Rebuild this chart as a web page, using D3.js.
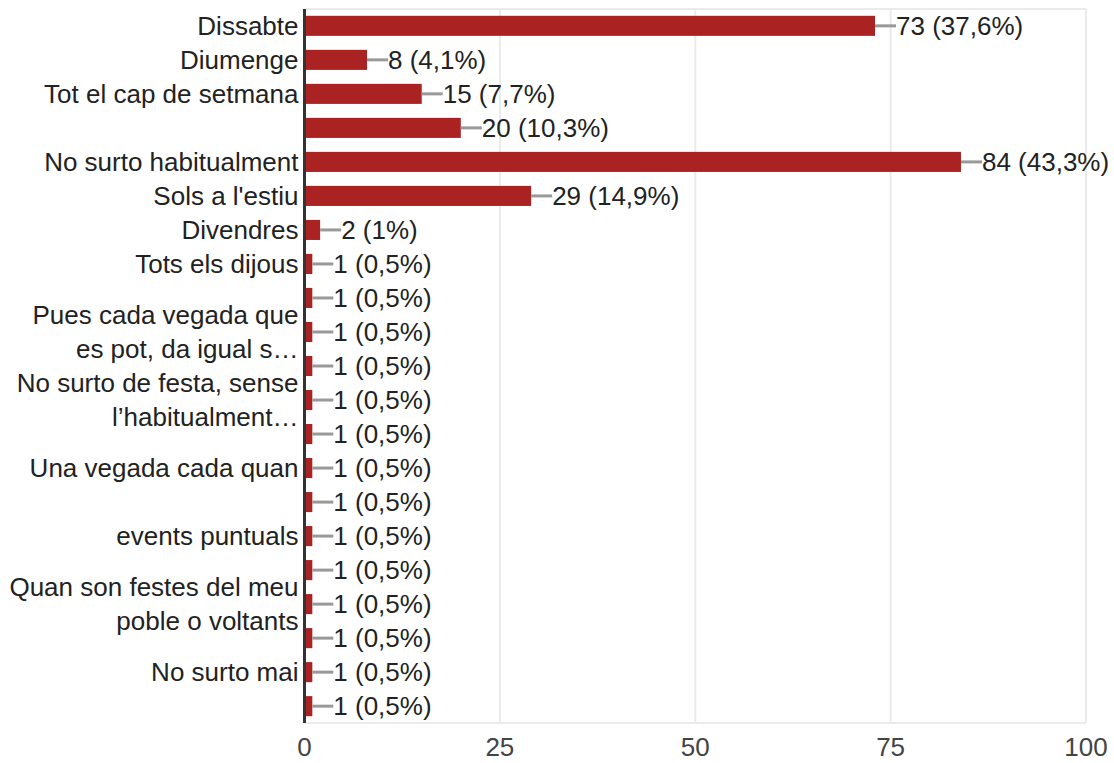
<!DOCTYPE html>
<html>
<head>
<meta charset="utf-8">
<script src="https://cdn.jsdelivr.net/npm/d3@7"></script>
<style>
  body { margin: 0; background: #fff; }
  svg { display: block; font-family: "Liberation Sans", Arial, sans-serif; }
</style>
</head>
<body>
<svg id="chart" width="1114" height="763"></svg>
<script>
// categories (label lines; empty = label hidden), counts and percent labels
const categories = [
  ["Dissabte"],
  ["Diumenge"],
  ["Tot el cap de setmana"],
  [],
  ["No surto habitualment"],
  ["Sols a l'estiu"],
  ["Divendres"],
  ["Tots els dijous"],
  [],
  ["Pues cada vegada que", "es pot, da igual s…"],
  [],
  ["No surto de festa, sense", "l’habitualment…"],
  [],
  ["Una vegada cada quan"],
  [],
  ["events puntuals"],
  [],
  ["Quan son festes del meu", "poble o voltants"],
  [],
  ["No surto mai"],
  []
];
const values = [73, 8, 15, 20, 84, 29, 2, 1, 1, 1, 1, 1, 1, 1, 1, 1, 1, 1, 1, 1, 1];
const percents = ["37,6%", "4,1%", "7,7%", "10,3%", "43,3%", "14,9%", "1%",
  "0,5%", "0,5%", "0,5%", "0,5%", "0,5%", "0,5%", "0,5%", "0,5%", "0,5%", "0,5%",
  "0,5%", "0,5%", "0,5%", "0,5%"];
const xTicks = [0, 25, 50, 75, 100];

const svg = d3.select('#chart');
const plotLeft = 304.5, plotRight = 1086, plotTop = 9, plotBottom = 723;
const fontSize = 26;

const x = d3.scaleLinear().domain([0, 100]).range([plotLeft, plotRight]);
const y = d3.scaleBand().domain(d3.range(values.length)).range([plotTop, plotBottom]).paddingInner(0.41).paddingOuter(0.2);

// gridlines
svg.append('g')
  .selectAll('line')
  .data(xTicks.slice(1))
  .join('line')
  .attr('x1', d => x(d)).attr('x2', d => x(d))
  .attr('y1', plotTop).attr('y2', plotBottom)
  .attr('stroke', '#ebebeb').attr('stroke-width', 2);
svg.append('line')
  .attr('x1', plotLeft).attr('x2', plotRight).attr('y1', plotTop).attr('y2', plotTop)
  .attr('stroke', '#ebebeb').attr('stroke-width', 2);
svg.append('line')
  .attr('x1', plotLeft).attr('x2', plotRight).attr('y1', plotBottom).attr('y2', plotBottom)
  .attr('stroke', '#ebebeb').attr('stroke-width', 2);

// bars
svg.append('g')
  .selectAll('rect')
  .data(values)
  .join('rect')
  .attr('x', x(0))
  .attr('y', (d, i) => y(i))
  .attr('width', d => x(d) - x(0))
  .attr('height', y.bandwidth())
  .attr('fill', '#ab2222');

// leader lines + value labels
const ann = svg.append('g');
ann.selectAll('line')
  .data(values)
  .join('line')
  .attr('x1', d => x(d)).attr('x2', d => x(d) + 21)
  .attr('y1', (d, i) => y(i) + y.bandwidth() / 2)
  .attr('y2', (d, i) => y(i) + y.bandwidth() / 2)
  .attr('stroke', '#999').attr('stroke-width', 3);
ann.selectAll('text')
  .data(values)
  .join('text')
  .attr('x', d => x(d) + 21)
  .attr('y', (d, i) => y(i) + y.bandwidth() / 2)
  .attr('dy', '0.35em')
  .attr('font-size', fontSize)
  .attr('fill', '#222')
  .text((d, i) => `${d} (${percents[i]})`);

// category labels
const lineH = 34;
const lab = svg.append('g')
  .selectAll('text')
  .data(categories)
  .join('text')
  .attr('text-anchor', 'end')
  .attr('font-size', fontSize)
  .attr('fill', '#222');
lab.each(function(lines, i) {
  const cy = y(i) + y.bandwidth() / 2 - (lines.length - 1) * lineH / 2;
  d3.select(this).selectAll('tspan')
    .data(lines)
    .join('tspan')
    .attr('x', plotLeft - 6)
    .attr('y', (d, j) => cy + j * lineH)
    .attr('dy', '0.35em')
    .text(d => d);
});

// axis line
svg.append('line')
  .attr('x1', plotLeft).attr('x2', plotLeft).attr('y1', plotTop).attr('y2', plotBottom)
  .attr('stroke', '#333').attr('stroke-width', 3);

// x tick labels
svg.append('g')
  .selectAll('text')
  .data(xTicks)
  .join('text')
  .attr('x', d => x(d))
  .attr('y', 756)
  .attr('text-anchor', 'middle')
  .attr('font-size', fontSize)
  .attr('fill', '#444')
  .text(d => d);
</script>
</body>
</html>
